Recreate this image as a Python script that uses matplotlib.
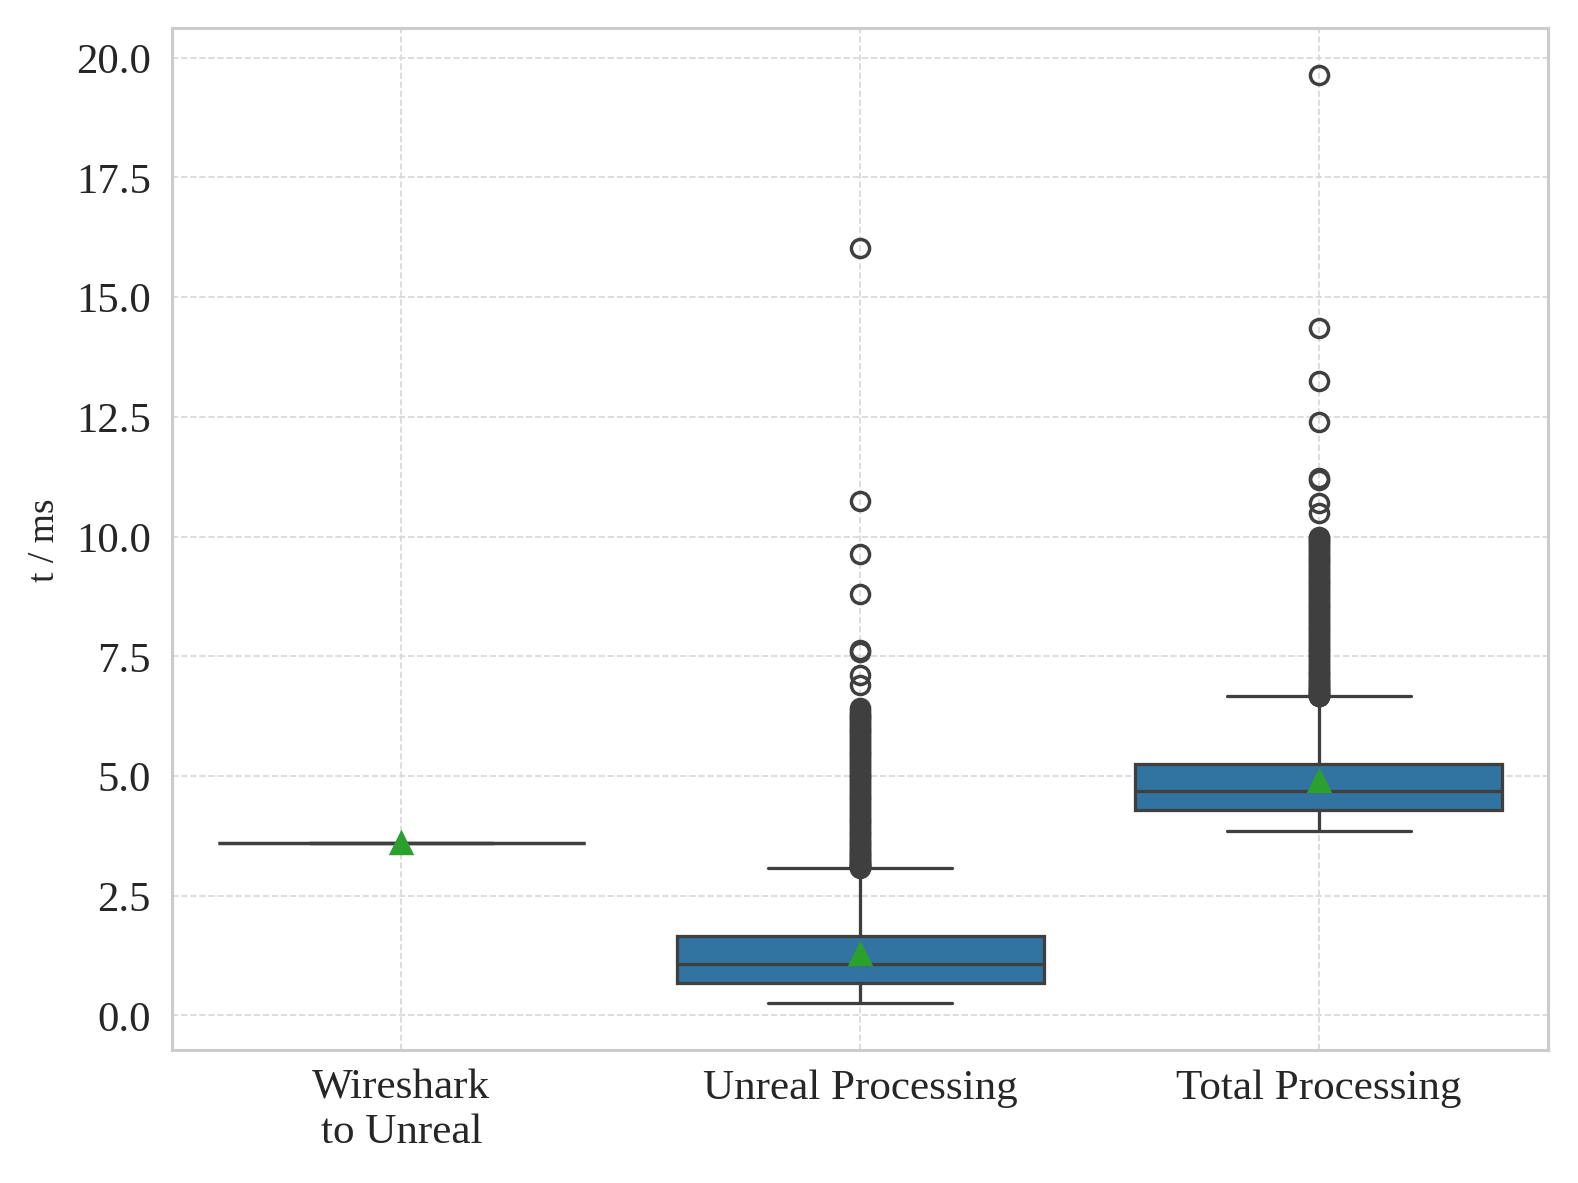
import matplotlib
matplotlib.use("Agg")
import matplotlib.pyplot as plt
import seaborn as sns

# summary stats (t in ms)
labels = ["Wireshark\nto Unreal", "Unreal Processing", "Total Processing"]
medians = [3.61, 1.08, 4.68]
q1s = [3.61, 0.67, 4.28]
q3s = [3.61, 1.65, 5.24]
whislo = [3.61, 0.25, 3.86]
whishi = [3.61, 3.07, 6.67]
means = [3.61, 1.29, 4.90]

wireshark_fliers = []
unreal_fliers = [3.08, 3.09, 3.1, 3.12, 3.13, 3.15, 3.17, 3.19, 3.21, 3.23, 3.26, 3.28,
                 3.31, 3.34, 3.37, 3.4, 3.43, 3.46, 3.49, 3.53, 3.56, 3.6, 3.63, 3.67,
                 3.7, 3.74, 3.78, 3.81, 3.85, 3.89, 3.93, 3.97, 4.01, 4.05, 4.09, 4.13,
                 4.17, 4.21, 4.25, 4.29, 4.33, 4.37, 4.41, 4.45, 4.49, 4.53, 4.57, 4.61,
                 4.65, 4.69, 4.73, 4.77, 4.81, 4.85, 4.89, 4.93, 4.97, 5.01, 5.05, 5.09,
                 5.13, 5.17, 5.21, 5.25, 5.29, 5.33, 5.37, 5.41, 5.45, 5.49, 5.53, 5.57,
                 5.61, 5.65, 5.69, 5.73, 5.77, 5.81, 5.85, 5.89, 5.93, 5.97, 6.01, 6.05,
                 6.09, 6.13, 6.17, 6.21, 6.24, 6.27, 6.3, 6.35, 6.41,
                 6.89, 7.1, 7.59, 7.62, 8.79, 9.64, 10.75, 16.03]
total_fliers = [6.66, 6.67, 6.68, 6.7, 6.71, 6.73, 6.75, 6.77, 6.79, 6.81, 6.84, 6.86,
                6.89, 6.92, 6.95, 6.98, 7.01, 7.04, 7.08, 7.11, 7.15, 7.18, 7.22, 7.26,
                7.3, 7.34, 7.38, 7.42, 7.46, 7.5, 7.54, 7.58, 7.62, 7.66, 7.7, 7.74,
                7.78, 7.82, 7.86, 7.9, 7.94, 7.98, 8.02, 8.06, 8.1, 8.14, 8.18, 8.22,
                8.26, 8.3, 8.34, 8.38, 8.42, 8.46, 8.5, 8.54, 8.58, 8.62, 8.66, 8.7,
                8.74, 8.78, 8.82, 8.86, 8.9, 8.94, 8.98, 9.02, 9.06, 9.1, 9.14, 9.18,
                9.22, 9.26, 9.3, 9.34, 9.38, 9.42, 9.46, 9.5, 9.54, 9.58, 9.62, 9.66,
                9.7, 9.74, 9.78, 9.82, 9.86, 9.9, 9.93, 9.96, 10.0,
                10.5, 10.7, 11.19, 11.23, 12.39, 13.25, 14.36, 19.64]
fliers = [wireshark_fliers, unreal_fliers, total_fliers]

sns.set_theme(style="whitegrid")
plt.rcParams['font.family'] = ['Liberation Serif', 'DejaVu Serif']

stats = []
for i in range(len(labels)):
	stats.append(dict(med=medians[i], q1=q1s[i], q3=q3s[i], whislo=whislo[i],
	                  whishi=whishi[i], mean=means[i], fliers=fliers[i], label=labels[i]))

line_c = "#3f3f3f"
fig = plt.figure(figsize=(6.4, 4.8), dpi=246.6)
ax = fig.add_axes([0.1090, 0.1124, 0.8720, 0.8631])
ax.bxp(stats, positions=range(len(labels)), widths=0.8, capwidths=0.4,
       showmeans=True, patch_artist=True,
       boxprops=dict(facecolor="#3274a1", edgecolor=line_c, linewidth=0.95),
       medianprops=dict(color=line_c, linewidth=0.95),
       whiskerprops=dict(color=line_c, linewidth=0.95),
       capprops=dict(color=line_c, linewidth=0.95),
       flierprops=dict(marker='o', markersize=5.3, markerfacecolor='none',
                       markeredgecolor=line_c, markeredgewidth=1.0),
       meanprops=dict(marker='^', markersize=6, markerfacecolor='#2ca02c',
                      markeredgecolor='#2ca02c'))

ax.set_xlim(-0.5, 2.5)
ax.set_ylim(-0.72, 20.61)
ax.set_yticks([0, 2.5, 5, 7.5, 10, 12.5, 15, 17.5, 20])
ax.set_yticklabels(["0.0", "2.5", "5.0", "7.5", "10.0", "12.5", "15.0", "17.5", "20.0"])
ax.set_ylabel("t / ms", fontsize=11, color="#262626")
ax.tick_params(axis='x', length=0, pad=5.5, labelsize=12.6, labelcolor="#262626")
ax.tick_params(axis='y', length=0, pad=6.2, labelsize=12.5, labelcolor="#262626")
ax.grid(True, linestyle='--', linewidth=0.5, color='#d8d8d8')
ax.set_axisbelow(True)
for s in ax.spines.values():
	s.set_color('#cccccc')
	s.set_linewidth(0.9)

fig.savefig("out.png", dpi=246.6)
